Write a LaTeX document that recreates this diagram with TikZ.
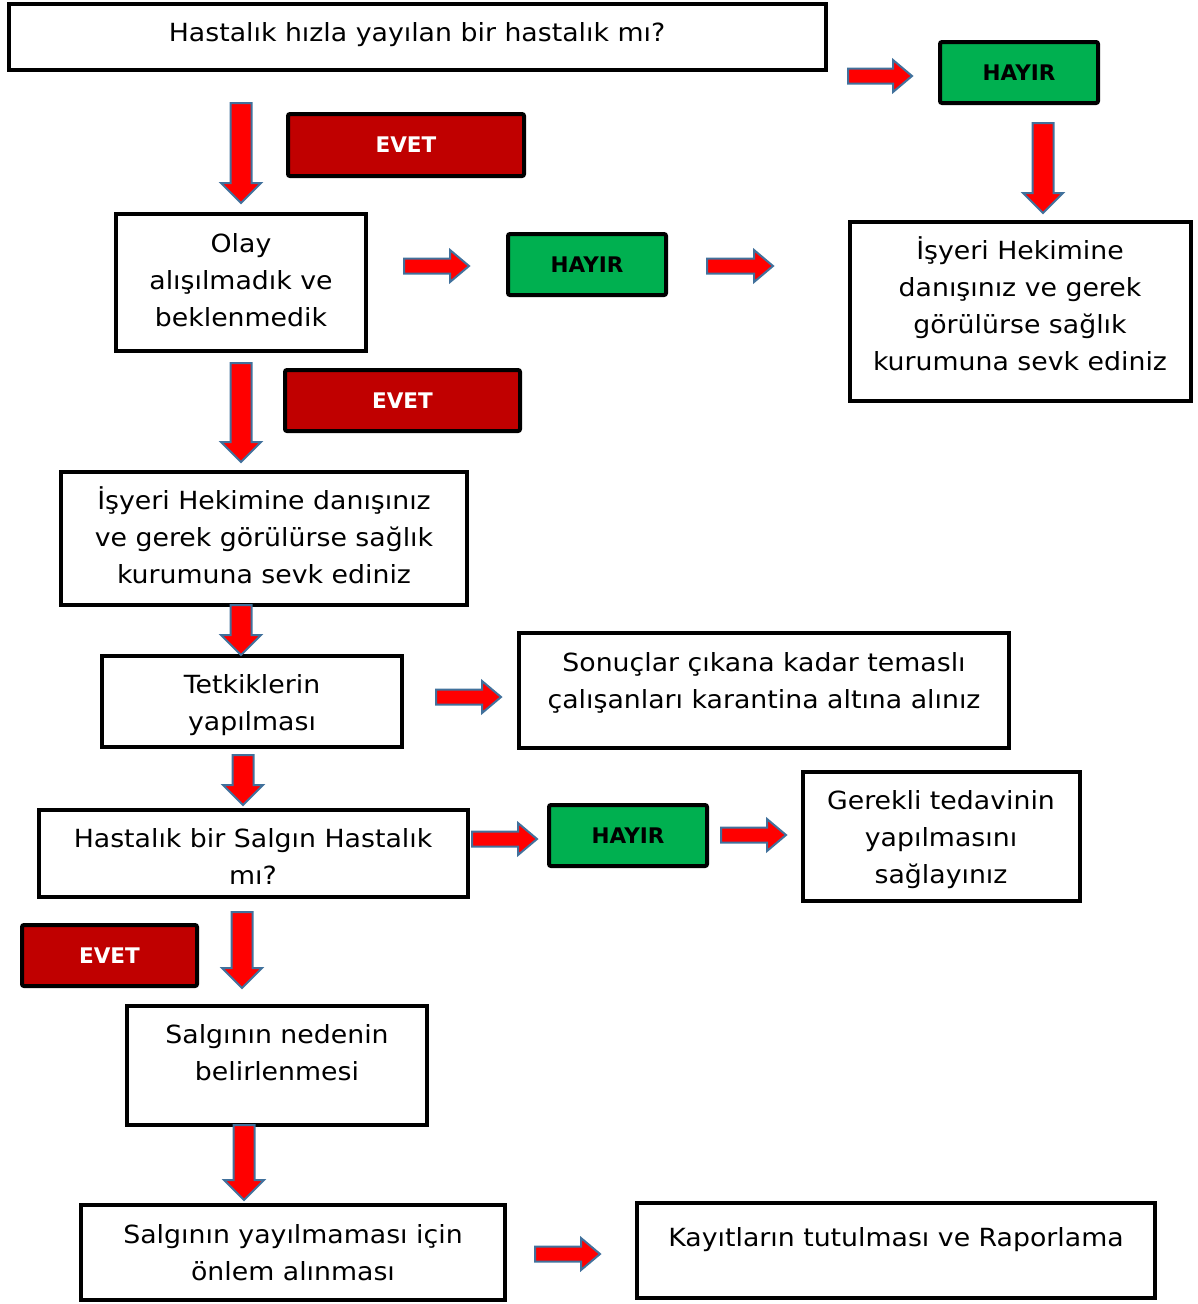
\documentclass[tikz,border=0pt]{standalone}
\usepackage{fontspec}
\setmainfont{DejaVu Sans}[FakeStretch=1.07]
\newfontfamily\lblfont{DejaVu Sans Bold}
\definecolor{evetred}{HTML}{C00000}
\definecolor{hayirgreen}{HTML}{00B050}
\definecolor{arrred}{HTML}{FF0000}
\definecolor{arrblue}{HTML}{41719C}
\tikzset{
  box/.style={draw=black, line width=4pt, fill=white, inner sep=0pt},
  txt/.style={align=center, inner sep=0pt, font=\fontsize{25}{37}\selectfont},
  redlbl/.style={draw=black, line width=4pt, fill=evetred, rounded corners=2pt, text=white, font=\lblfont\fontsize{21.5}{25}\selectfont, inner sep=0pt},
  greenlbl/.style={draw=black, line width=4pt, fill=hayirgreen, rounded corners=2pt, text=black, font=\lblfont\fontsize{21.5}{25}\selectfont, inner sep=0pt},
  blockarrow/.style={fill=arrred, draw=arrblue, line width=2pt, line join=miter}
}
% box: name, x1, y1, x2, y2 (outer extents)
\newcommand\bx[5]{\node[box, minimum width={#4-#2-4}, minimum height={#5-#3-4}] (#1) at ({(#2+#4)/2},{(#3+#5)/2}) {};}
% text: name, cx, first-line centre y, text
\newcommand\tx[4]{\node[txt, anchor=north] (#1) at (#2,{#3-15}) {\rule{0pt}{24pt}#4};}
% label box: name, style, x1, y1, x2, y2, text
\newcommand\lb[7]{\node[#2, minimum width={#5-#3-4}, minimum height={#6-#4-4}] (#1) at ({(#3+#5)/2},{(#4+#6)/2}) {#7};}
% right arrow: x1, x2, yc
\newcommand\rarr[3]{\filldraw[blockarrow] (#1,#3-7.5) -- (#2-19,#3-7.5) -- (#2-19,#3-16) -- (#2,#3) -- (#2-19,#3+16) -- (#2-19,#3+7.5) -- (#1,#3+7.5) -- cycle;}
% down arrow: xc, y1, y2
\newcommand\darr[3]{\filldraw[blockarrow] (#1-10.5,#2) -- (#1+10.5,#2) -- (#1+10.5,#3-20) -- (#1+20,#3-20) -- (#1,#3) -- (#1-20,#3-20) -- (#1-10.5,#3-20) -- cycle;}
\begin{document}
\begin{tikzpicture}[x=1pt,y=-1pt]
\useasboundingbox (0,0) rectangle (1197,1304);
% boxes
\bx{q1}{7}{2}{828}{72}
\tx{q1t}{417}{32}{Hastalık hızla yayılan bir hastalık mı?}
\lb{h1}{greenlbl}{938}{40}{1100}{105}{HAYIR}
\bx{r1}{848}{220}{1193}{403}
\tx{r1t}{1020}{250}{İşyeri Hekimine\\danışınız ve gerek\\görülürse sağlık\\kurumuna sevk ediniz}
\lb{e1}{redlbl}{286}{112}{526}{178}{EVET}
\bx{q2}{114}{212}{368}{353}
\tx{q2t}{241}{243}{Olay\\alışılmadık ve\\beklenmedik}
\lb{h2}{greenlbl}{506}{232}{668}{297}{HAYIR}
\lb{e2}{redlbl}{283}{368}{522}{433}{EVET}
\bx{s1}{59}{470}{469}{607}
\tx{s1t}{264}{500}{İşyeri Hekimine danışınız\\ve gerek görülürse sağlık\\kurumuna sevk ediniz}
\bx{s2}{100}{654}{404}{749}
\tx{s2t}{252}{684}{Tetkiklerin\\yapılması}
\bx{s3}{517}{631}{1011}{750}
\tx{s3t}{764}{662}{Sonuçlar çıkana kadar temaslı\\çalışanları karantina altına alınız}
\bx{q3}{37}{808}{470}{899}
\tx{q3t}{253}{838}{Hastalık bir Salgın Hastalık\\mı?}
\lb{h3}{greenlbl}{547}{803}{709}{868}{HAYIR}
\bx{r3}{801}{770}{1082}{903}
\tx{r3t}{941}{800}{Gerekli tedavinin\\yapılmasını\\sağlayınız}
\lb{e3}{redlbl}{20}{923}{199}{988}{EVET}
\bx{s4}{125}{1004}{429}{1127}
\tx{s4t}{277}{1034}{Salgının nedenin\\belirlenmesi}
\bx{s5}{79}{1203}{507}{1302}
\tx{s5t}{293}{1234}{Salgının yayılmaması için\\önlem alınması}
\bx{s6}{635}{1201}{1157}{1300}
\tx{s6t}{896}{1237}{Kayıtların tutulması ve Raporlama}
% arrows
\rarr{848}{912}{76}
\darr{1043}{123}{213}
\darr{241}{103}{203}
\rarr{404}{469}{266}
\rarr{707}{773}{266}
\darr{241}{363}{462}
\darr{241}{605}{655}
\rarr{436}{501}{697}
\darr{243}{755}{805}
\rarr{472}{537}{839}
\rarr{721}{786}{835}
\darr{242}{912}{988}
\darr{244}{1125}{1200}
\rarr{535}{600}{1254}
\end{tikzpicture}
\end{document}
